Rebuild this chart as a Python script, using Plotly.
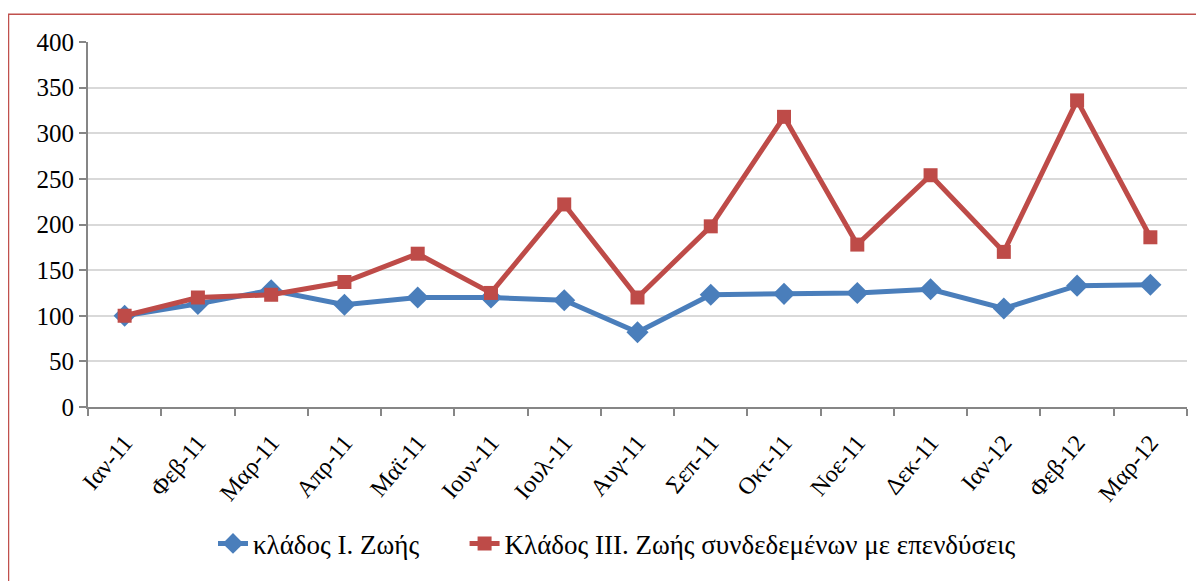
import plotly.graph_objects as go

months = ["Ιαν-11", "Φεβ-11", "Μαρ-11", "Απρ-11", "Μαϊ-11", "Ιουν-11", "Ιουλ-11", "Αυγ-11",
          "Σεπ-11", "Οκτ-11", "Νοε-11", "Δεκ-11", "Ιαν-12", "Φεβ-12", "Μαρ-12"]
klados_I = [100, 113, 128, 112, 120, 120, 117, 82, 123, 124, 125, 129, 108, 133, 134]
klados_III = [100, 120, 123, 137, 168, 125, 222, 120, 198, 318, 178, 254, 170, 336, 186]
y_ticks = [0, 50, 100, 150, 200, 250, 300, 350, 400]

font_family = "Liberation Serif, Times New Roman, serif"

# page body has an 8px default margin; compensate so the plot lands where the reference has it
OFF = 8
W, H = 1204 - OFF, 581 - OFF
L, R, T, B = 88 - OFF, 1187 - OFF, 42 - OFF, 410 - OFF
PW, PH = R - L, B - T

fig = go.Figure()
fig.add_trace(go.Scatter(
    x=months, y=klados_I, name="κλάδος Ι. Ζωής" + "\u00a0" * 6, mode="lines+markers",
    line=dict(color="#4a7ebb", width=5),
    marker=dict(symbol="diamond", size=17, color="#4a7ebb"),
))
fig.add_trace(go.Scatter(
    x=months, y=klados_III, name="Κλάδος ΙΙΙ. Ζωής συνδεδεμένων με επενδύσεις", mode="lines+markers",
    line=dict(color="#be4b48", width=5),
    marker=dict(symbol="square", size=14, color="#be4b48"),
))

fig.update_layout(
    width=W, height=H,
    margin=dict(l=L, r=W - R, t=T, b=H - B),
    paper_bgcolor="white", plot_bgcolor="white",
    font=dict(family=font_family, size=24, color="#000000"),
    showlegend=True,
    legend=dict(orientation="h", x=(617 - 88) / 1099, xanchor="center", y=-0.375, yanchor="middle",
                font=dict(size=27), traceorder="normal"),
    xaxis=dict(
        type="category", tickangle=-50, tickson="boundaries", automargin=False,
        showline=True, linecolor="#868686", linewidth=2,
        ticks="outside", ticklen=7, tickcolor="#868686", tickwidth=2,
        ticklabelstandoff=10,
        showgrid=False, range=[-0.5, 14.5], tickfont=dict(size=24),
    ),
    yaxis=dict(
        range=[0, 400], tickvals=y_ticks, showline=True, linecolor="#868686", linewidth=2,
        ticks="outside", ticklen=7, tickcolor="#868686", tickwidth=2, automargin=False,
        showgrid=True, gridcolor="#d9d9d9", gridwidth=2, zeroline=False,
        tickfont=dict(size=25),
    ),
    shapes=[dict(type="rect", xref="paper", yref="paper",
                 x0=(0.5 - L) / PW, x1=(W + 10 - L) / PW,
                 y0=(B - H - 20) / PH, y1=(B - 6) / PH,
                 line=dict(color="#c0504d", width=1.5), fillcolor="rgba(0,0,0,0)", layer="below")],
)

fig.write_html("out.html")
